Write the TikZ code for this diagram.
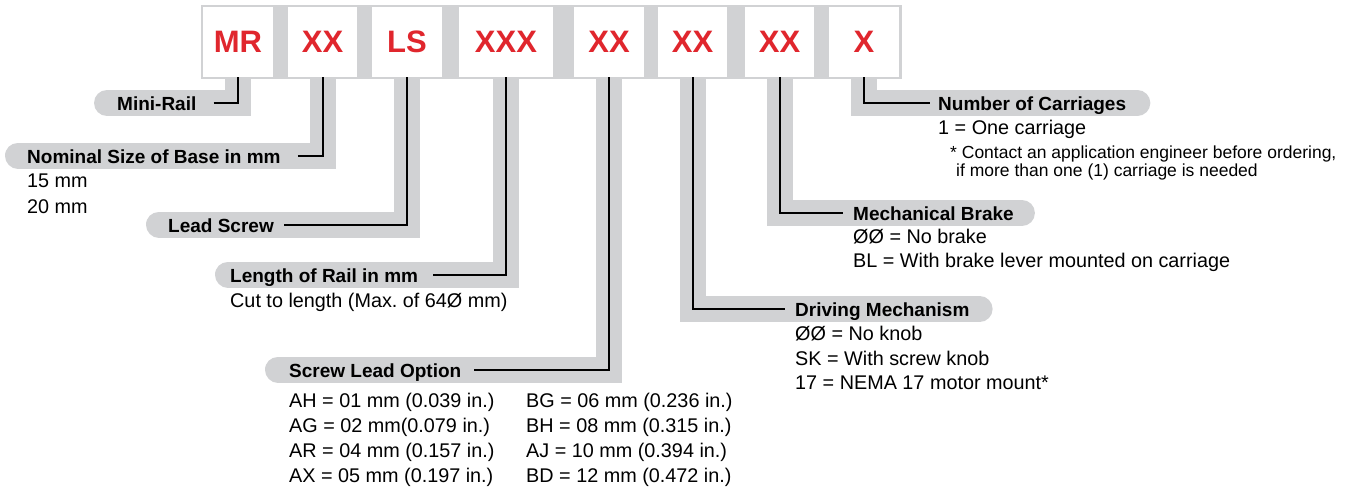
\documentclass[tikz,border=0pt]{standalone}
\usepackage{fontspec}
\setmainfont{Liberation Sans}
\frenchspacing
\definecolor{bandgray}{RGB}{209,210,212}
\definecolor{codered}{RGB}{224,38,45}
\pgfdeclarelayer{background}
\pgfsetlayers{background,main}

\begin{document}
\begin{tikzpicture}[
    x=1pt, y=-1pt,
    codebox/.style={fill=white, minimum height=70pt, inner sep=0pt, text=codered,
        font=\fontsize{31}{31}\selectfont\bfseries},
    band/.style={draw=bandgray, line width=26pt, line cap=round},
    lead/.style={draw=black, line width=2pt},
    heading/.style={font=\fontsize{19}{19}\selectfont\bfseries, inner sep=0pt,
        text height=15pt, text depth=0pt, anchor=west},
    option/.style={font=\fontsize{19.8}{24}\selectfont, inner sep=0pt, anchor=base west},
    smallnote/.style={font=\fontsize{17.5}{18}\selectfont, inner sep=0pt, anchor=base west}
]
    \useasboundingbox (0,0) rectangle (1349,490);

    % Part number boxes
    \node[codebox, minimum width=70pt] (mr) at (238,42) {MR};
    \node[codebox, minimum width=69pt] (sz) at (322.5,42) {XX};
    \node[codebox, minimum width=70pt] (ls) at (407,42) {LS};
    \node[codebox, minimum width=94pt] (len) at (506,42) {XXX};
    \node[codebox, minimum width=70pt] (sl) at (609,42) {XX};
    \node[codebox, minimum width=69pt] (dm) at (692.5,42) {XX};
    \node[codebox, minimum width=69pt] (mb) at (779.5,42) {XX};
    \node[codebox, minimum width=70pt] (nc) at (864,42) {X};

    % Headings
    \node[heading] (t-mr) at (117,103) {Mini-Rail};
    \node[heading] (t-sz) at (27,155.5) {Nominal Size of Base in mm};
    \node[heading] (t-ls) at (168,224.5) {Lead Screw};
    \node[heading] (t-len) at (230,274.5) {Length of Rail in mm};
    \node[heading] (t-sl) at (289,369.5) {Screw Lead Option};
    \node[heading] (t-dm) at (795,309) {Driving Mechanism};
    \node[heading] (t-mb) at (853,213) {Mechanical Brake};
    \node[heading] (t-nc) at (938,103) {Number of Carriages};

    % Gray bands behind the leads
    \begin{pgfonlayer}{background}
        \fill[bandgray] (201,5) rectangle (902,79);
        \draw[band] ([xshift=-10pt]t-mr.west) -| (mr.south);
        \draw[band] ([xshift=-9pt]t-sz.west) -| (sz.south);
        \draw[band] ([xshift=-9pt]t-ls.west) -| (ls.south);
        \draw[band] ([xshift=-2pt]t-len.west) -| (len.south);
        \draw[band] ([xshift=-11pt]t-sl.west) -| (sl.south);
        \draw[band] (dm.south) |- ([xshift=10pt]t-dm.east);
        \draw[band] (mb.south) |- ([xshift=8pt]t-mb.east);
        \draw[band] (nc.south) |- ([xshift=11pt]t-nc.east);
    \end{pgfonlayer}

    % Leads
    \draw[lead] ([xshift=17pt]t-mr.east) -| (mr.south);
    \draw[lead] ([xshift=17pt]t-sz.east) -| (sz.south);
    \draw[lead] ([xshift=10pt]t-ls.east) -| (ls.south);
    \draw[lead] ([xshift=15pt]t-len.east) -| (len.south);
    \draw[lead] ([xshift=13pt]t-sl.east) -| (sl.south);
    \draw[lead] (dm.south) |- ([xshift=-10pt]t-dm.west);
    \draw[lead] (mb.south) |- ([xshift=-10pt]t-mb.west);
    \draw[lead] (nc.south) |- ([xshift=-8pt]t-nc.west);

    % Options
    \foreach \txt [count=\i] in {15 mm, 20 mm}
        \node[option] (o-sz\i) at (27, {161+26*\i}) {\txt};
    \node[option] (o-len) at (230,307) {Cut to length (Max. of 64Ø mm)};
    \foreach \txt [count=\i] in {AH = 01 mm (0.039 in.), AG = 02 mm(0.079 in.),
            AR = 04 mm (0.157 in.), AX = 05 mm (0.197 in.)}
        \node[option] (o-sla\i) at (289, {382+25*\i}) {\txt};
    \foreach \txt [count=\i] in {BG = 06 mm (0.236 in.), BH = 08 mm (0.315 in.),
            AJ = 10 mm (0.394 in.), BD = 12 mm (0.472 in.)}
        \node[option] (o-slb\i) at (526, {382+25*\i}) {\txt};
    \foreach \txt [count=\i] in {ØØ = No knob, SK = With screw knob,
            17 = NEMA 17 motor mount*}
        \node[option] (o-dm\i) at (795, {316+24.5*\i}) {\txt};
    \foreach \txt [count=\i] in {ØØ = No brake, BL = With brake lever mounted on carriage}
        \node[option] (o-mb\i) at (853, {220+23.5*\i}) {\txt};
    \node[option] (o-nc) at (938,134) {1 = One carriage};
    \node[smallnote] (n-nc1) at (950,158) {* Contact an application engineer before ordering,};
    \node[smallnote] (n-nc2) at (956,176) {if more than one (1) carriage is needed};
\end{tikzpicture}
\end{document}
